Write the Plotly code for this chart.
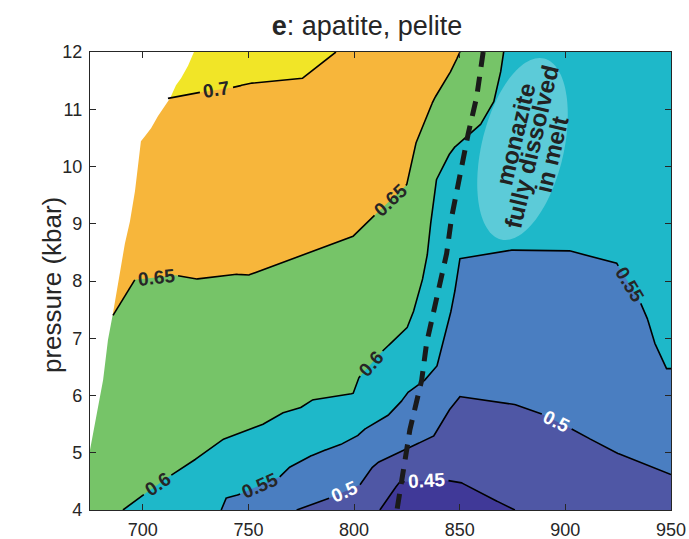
import numpy as np
import plotly.graph_objects as go

# ---------------- data (temperature in °C, pressure in kbar) ----------------
T_RANGE = [675, 950]
P_RANGE = [4, 12]
x_ticks = [700, 750, 800, 850, 900, 950]
y_ticks = [4, 5, 6, 7, 8, 9, 10, 11, 12]

# isopleth 0.70
iso070_T = [711.9, 726.1, 744.1, 749.8, 768.7, 775.2, 791.4]
iso070_P = [11.19, 11.29, 11.39, 11.45, 11.51, 11.53, 12.0]
# isopleth 0.65
iso065_T = [685.9, 696.2, 715.8, 724.6, 743.5, 749.8, 768.7, 783.9, 799.5, 808.3,
            824.9, 828.8, 834.3, 837.5, 843.0, 846.9, 850.1]
iso065_P = [7.40, 8.02, 8.10, 8.03, 8.12, 8.10, 8.36, 8.57, 8.78, 9.10,
            9.68, 10.37, 10.84, 11.16, 11.48, 11.74, 12.0]
# isopleth 0.60
iso060_T = [690.6, 699.3, 713.5, 721.4, 737.1, 748.2, 756.1, 765.5, 774.4, 779.9,
            796.5, 799.6, 802.0, 813.8, 824.9, 827.3, 831.2, 834.4, 835.1, 838.6,
            843.8, 847.0, 859.6, 865.9, 869.0, 870.8]
iso060_P = [4.0, 4.24, 4.61, 4.79, 5.22, 5.37, 5.48, 5.69, 5.78, 5.92,
            6.01, 6.04, 6.30, 6.79, 7.17, 7.37, 7.84, 8.36, 8.64, 9.74,
            10.14, 10.32, 10.72, 11.10, 11.56, 12.0]
# isopleth 0.55
iso055_T = [737.1, 739.5, 743.5, 764.8, 768.7, 775.9, 783.9, 791.8, 801.2, 804.4,
            815.4, 821.7, 824.9, 832.7, 839.1, 843.8, 847.0, 850.1, 854.8, 874.6,
            900.6, 924.3, 935.3, 938.4, 941.6, 947.9, 950.0]
iso055_P = [4.0, 4.21, 4.24, 4.58, 4.73, 4.88, 5.02, 5.11, 5.28, 5.40,
            5.63, 5.86, 6.04, 6.24, 6.50, 7.14, 7.66, 8.39, 8.42, 8.54,
            8.54, 8.31, 7.64, 7.40, 6.97, 6.47, 6.47]
# isopleth 0.50
iso050_T = [772.8, 788.6, 802.8, 807.5, 810.7, 823.3, 837.5, 843.8, 850.1, 874.6,
            888.0, 903.8, 922.7, 950.0]
iso050_P = [4.0, 4.21, 4.44, 4.70, 4.82, 5.05, 5.28, 5.69, 5.98, 5.86,
            5.69, 5.40, 5.02, 4.62]
# isopleth 0.45
iso045_T = [812.2, 817.0, 820.9, 822.5, 840.6, 850.1, 859.6, 876.1]
iso045_P = [4.0, 4.24, 4.47, 4.49, 4.53, 4.49, 4.30, 4.0]

# edge of calculated field (no data to the upper left)
edge_T = [675.0, 681.2, 683.5, 685.9, 691.5, 693.9, 696.3, 697.7, 699.1, 701.0,
          703.9, 707.2, 710.5, 712.9, 715.7, 718.1, 721.4, 724.2]
edge_P = [5.05, 6.27, 6.97, 7.44, 8.65, 9.04, 9.57, 10.02, 10.44, 10.53,
          10.67, 10.88, 11.07, 11.19, 11.42, 11.54, 11.76, 12.0]

# monazite-out (dashed) line
mnz_T = [861.1, 858.0, 854.0, 850.1, 846.2, 843.8, 840.6, 837.5, 834.3, 832.0,
         829.6, 826.4, 824.1, 820.9, 820.3]
mnz_P = [12.0, 11.21, 10.57, 9.82, 9.12, 8.48, 7.96, 7.43, 6.91, 6.27,
         5.92, 5.40, 4.87, 4.12, 4.0]

# contour label texts and approximate locations
label_text = ["0.7", "0.65", "0.65", "0.6", "0.6", "0.55", "0.5", "0.45", "0.5", "0.55"]
label_line = ["070", "065", "065", "060", "060", "055", "050", "045", "050", "055"]
label_T = [735.1, 706.5, 817.0, 808.5, 707.2, 755.9, 796.2, 834.0, 895.5, 930.6]
label_P = [11.28, 8.08, 9.41, 6.55, 4.42, 4.37, 4.28, 4.61, 5.53, 7.95]
label_dark = [True, True, True, True, True, True, False, False, False, True]

# ---------------- styling ----------------
C_YELLOW = "#F1E527"
C_ORANGE = "#F7B63B"
C_GREEN = "#76C468"
C_CYAN = "#1EB8C9"
C_BLUE = "#4A7EC1"
C_PURPLE = "#4F57A5"
C_DARK = "#403998"
INK = "#262626"
FONT = "Arial, Liberation Sans, Helvetica, sans-serif"

W, H = 689, 539
ML, MR, MT, MB = 90, 18, 52, 29
PW, PH = W - ML - MR, H - MT - MB


def to_px(T, P):
    T = np.asarray(T, float); P = np.asarray(P, float)
    return (ML + (T - T_RANGE[0]) * PW / (T_RANGE[1] - T_RANGE[0]),
            MT + (P_RANGE[1] - P) * PH / (P_RANGE[1] - P_RANGE[0]))


def to_data(px, py):
    px = np.asarray(px, float); py = np.asarray(py, float)
    return (T_RANGE[0] + (px - ML) * (T_RANGE[1] - T_RANGE[0]) / PW,
            P_RANGE[1] - (py - MT) * (P_RANGE[1] - P_RANGE[0]) / PH)


def densify(T, P, step=1.0):
    px, py = to_px(T, P)
    xs, ys = [px[0]], [py[0]]
    for i in range(1, len(px)):
        d = np.hypot(px[i] - px[i - 1], py[i] - py[i - 1])
        n = max(1, int(np.ceil(d / step)))
        t = np.linspace(0, 1, n + 1)[1:]
        xs.extend(px[i - 1] + t * (px[i] - px[i - 1]))
        ys.extend(py[i - 1] + t * (py[i] - py[i - 1]))
    return np.array(xs), np.array(ys)


lines = {
    "070": (iso070_T, iso070_P),
    "065": (iso065_T, iso065_P),
    "060": (iso060_T, iso060_P),
    "055": (iso055_T, iso055_P),
    "050": (iso050_T, iso050_P),
    "045": (iso045_T, iso045_P),
}

LABEL_SIZE = 19


def text_width(s, size):
    return sum(0.278 * size if c == "." else 0.556 * size for c in s)


fig = go.Figure()

# ---- filled regions ----
def poly(T, P, color):
    fig.add_trace(go.Scatter(x=T, y=P, mode="lines", fill="toself", fillcolor=color,
                             line=dict(width=0, color=color), hoverinfo="skip",
                             showlegend=False))

poly(iso060_T + [675, 675], iso060_P + [12, 4], C_GREEN)
poly(iso065_T + [675, 675], iso065_P + [12, iso065_P[0]], C_ORANGE)
poly(iso070_T + [675, 675], iso070_P + [12, iso070_P[0]], C_YELLOW)
poly(edge_T + [675], edge_P + [12], "white")
poly(iso055_T + [950], iso055_P + [4], C_BLUE)
poly(iso050_T + [950], iso050_P + [4], C_PURPLE)
poly(iso045_T, iso045_P, C_DARK)

# ---- contour lines with gaps for labels, and label annotations ----
dense = {k: densify(*v) for k, v in lines.items()}
masks = {k: np.ones(len(v[0]), bool) for k, v in dense.items()}
annotations = []
for txt, key, lt, lp, dark in zip(label_text, label_line, label_T, label_P, label_dark):
    xs, ys = dense[key]
    cx, cy = to_px(lt, lp)
    i = int(np.argmin(np.hypot(xs - cx, ys - cy)))
    j0, j1 = max(0, i - 8), min(len(xs) - 1, i + 8)
    ang = np.degrees(np.arctan2(ys[j1] - ys[j0], xs[j1] - xs[j0]))
    if ang > 90:
        ang -= 180
    if ang < -90:
        ang += 180
    r = text_width(txt, LABEL_SIZE) / 2 + 3
    masks[key] &= np.hypot(xs - xs[i], ys - ys[i]) > r
    aT, aP = to_data(xs[i], ys[i])
    annotations.append(dict(x=float(aT), y=float(aP), xref="x", yref="y", text="<b>%s</b>" % txt,
                            showarrow=False, textangle=float(ang),
                            font=dict(family=FONT, size=LABEL_SIZE,
                                      color=INK if dark else "white")))

for key, (xs, ys) in dense.items():
    T, P = to_data(xs, ys)
    m = masks[key]
    Tl = [float(t) if ok else None for t, ok in zip(T, m)]
    Pl = [float(p) if ok else None for p, ok in zip(P, m)]
    fig.add_trace(go.Scatter(x=Tl, y=Pl, mode="lines", connectgaps=False,
                             line=dict(color="black", width=1.6), hoverinfo="skip",
                             showlegend=False))

# ---- monazite-out dashed line ----
fig.add_trace(go.Scatter(x=mnz_T, y=mnz_P, mode="lines",
                         line=dict(color="#1a1a1a", width=5, dash="15px,10px"),
                         hoverinfo="skip", showlegend=False))

# ---- highlight ellipse ----
ecx, ecy = 522.5, 149.0   # centre (px)
ea, eb, tilt = 93.0, 41.0, np.radians(13.3)
tt = np.linspace(0, 2 * np.pi, 121)
ux, uy = np.sin(tilt), -np.cos(tilt)
vx, vy = np.cos(tilt), np.sin(tilt)
epx = ecx + ea * np.cos(tt) * ux + eb * np.sin(tt) * vx
epy = ecy + ea * np.cos(tt) * uy + eb * np.sin(tt) * vy
eT, eP = to_data(epx, epy)
path = "M " + " L ".join("%.4f,%.4f" % (a, b) for a, b in zip(eT, eP)) + " Z"
shapes = [dict(type="path", path=path, xref="x", yref="y",
               fillcolor="rgba(255,255,255,0.28)", line=dict(width=0), layer="above")]

note_lines = ["monazite", "fully dissolved", "in melt"]
note_px = [(515, 134), (531, 147), (551, 155)]
for s, (nx, ny) in zip(note_lines, note_px):
    nT, nP = to_data(nx, ny)
    annotations.append(dict(x=float(nT), y=float(nP), xref="x", yref="y",
                            text="<b>%s</b>" % s, showarrow=False, textangle=-76.7,
                            font=dict(family=FONT, size=24, color="#222222")))

# y-axis label
annotations.append(dict(x=-55 / PW, y=(PH - (285 - MT)) / PH, xref="paper", yref="paper",
                        text="pressure (kbar)", showarrow=False, textangle=-90,
                        font=dict(family=FONT, size=26, color=INK)))

axis_common = dict(showgrid=False, zeroline=False, showline=True, linecolor=INK,
                   linewidth=1.3, mirror="ticks", ticks="inside", ticklen=6,
                   tickwidth=1.3, tickcolor=INK, automargin=False,
                   tickfont=dict(family=FONT, size=18, color=INK))

fig.update_layout(
    width=W, height=H,
    margin=dict(l=ML, r=MR, t=MT, b=MB, pad=0, autoexpand=False),
    paper_bgcolor="white", plot_bgcolor=C_CYAN,
    xaxis=dict(range=T_RANGE, tickvals=x_ticks, ticklabelstandoff=3, **axis_common),
    yaxis=dict(range=P_RANGE, tickvals=y_ticks, ticklabelstandoff=3, **axis_common),
    title=dict(text="<b>e</b>: apatite, pelite", x=367 / W, xref="container", xanchor="center",
               y=1 - 26 / H, yref="container", yanchor="middle",
               font=dict(family=FONT, size=27, color=INK)),
    shapes=shapes,
    annotations=annotations,
    showlegend=False,
)

fig.write_html("out.html")
